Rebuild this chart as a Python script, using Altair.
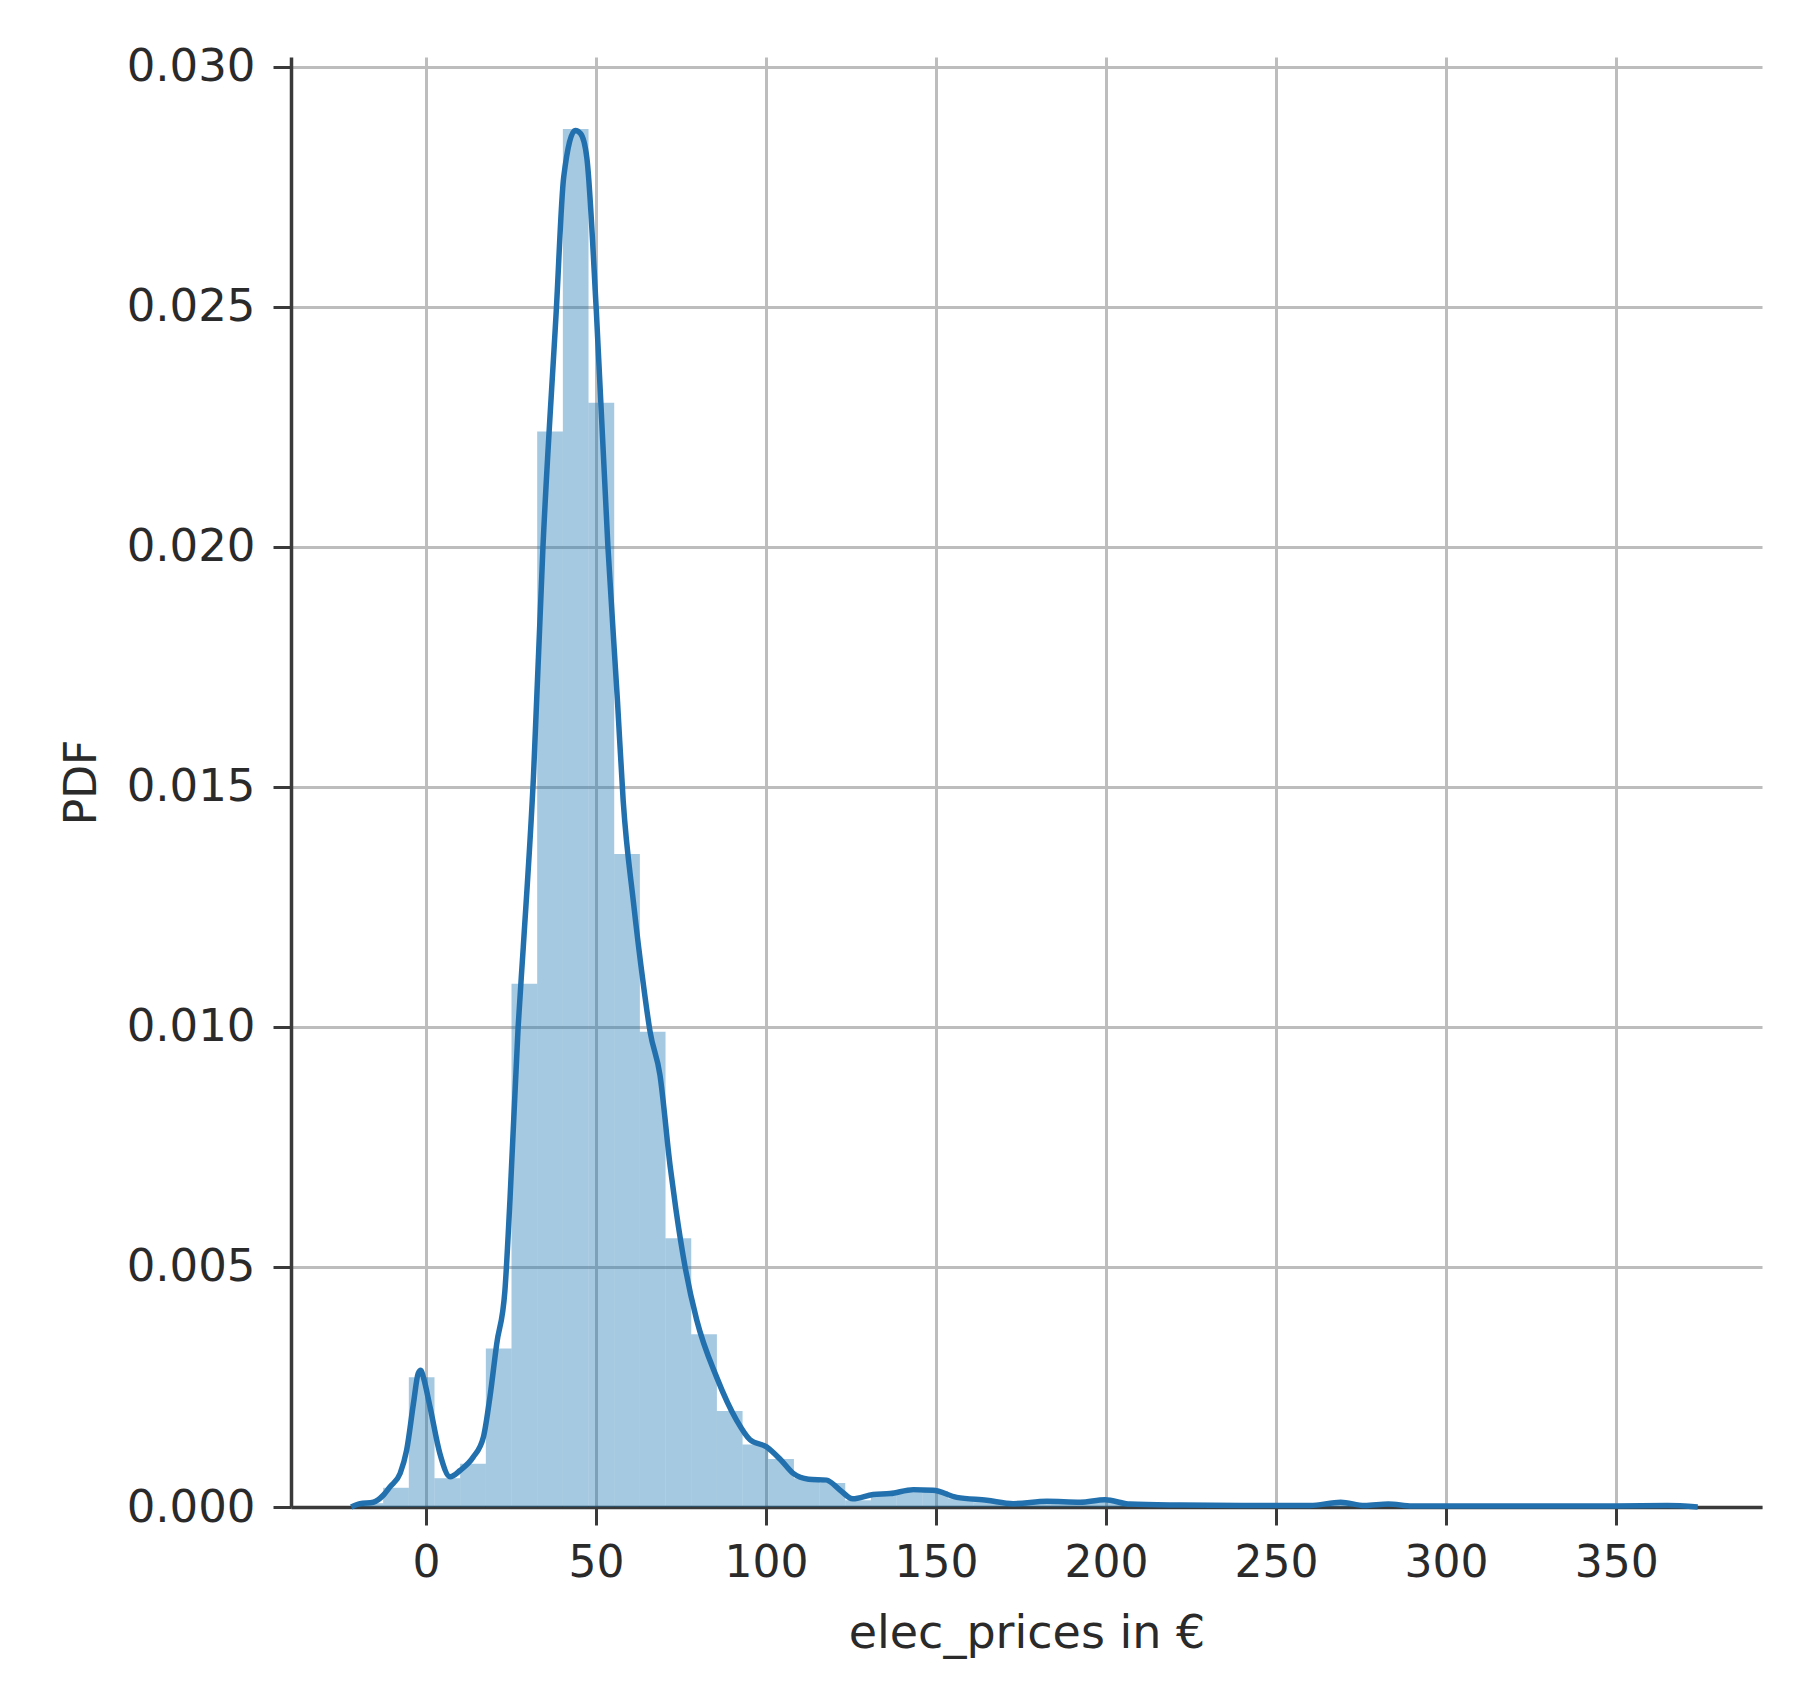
import altair as alt
import pandas as pd

# Histogram (density) bins: left edges, right edges, heights
bin_width = 7.55
bin_start0 = -20.15
hist_heights = [
    0.00008, 0.0004, 0.0027, 0.0006, 0.0009, 0.0033, 0.0109, 0.0224, 0.0287, 0.0230,
    0.0136, 0.0099, 0.0056, 0.0036, 0.0020, 0.0013, 0.0010, 0.0006, 0.0005, 0.00014,
    0.00025, 0.0003, 0.00033, 0.00018, 0.0001, 0.00006, 0.0001, 0.0001, 0.00011, 0.00012,
    0.00005, 0.00004, 0.00003, 0.00003, 0.00003, 0.00003, 0.00002, 0.00004, 0.00008, 0.00004,
    0.00005, 0.00002, 0.00002, 0.00002, 0.00002, 0.00002, 0.00002, 0.00002, 0.00002, 0.00002,
]
bin_lo = [round(bin_start0 + i * bin_width, 3) for i in range(len(hist_heights))]
bin_hi = [round(b + bin_width, 3) for b in bin_lo]

# KDE curve
kde_x = [-22, -19.4, -15.5, -12.5, -10.6, -7.6, -5.7, -3.7, -2.3, -1.5, -0.8, 1.2, 4.1, 7.1,
         10.0, 13.9, 16.9, 18.8, 20.8, 23.2, 24.7, 27.1, 28.6, 31.6, 34.4, 38.3, 40.5, 43.9,
         45.5, 47.3, 50.1, 53.5, 56.3, 58.0, 61.0, 63.9, 65.9, 68.8, 71.8, 73.5, 76.2, 79.6,
         85.5, 91.4, 95.3, 100.2, 104.1, 108, 112.5, 117.8, 121.8, 125.5, 131.5, 136.5, 143.3,
         149.1, 156.1, 164.9, 172.7, 182.6, 192.4, 199.7, 207, 221.8, 240, 260, 269, 276, 283,
         290, 320, 350, 365, 374]
kde_y = [0.0, 0.00007, 0.0001, 0.00025, 0.00042, 0.0007, 0.00118, 0.00215, 0.00278, 0.00285,
         0.00271, 0.00208, 0.00111, 0.00063, 0.00076, 0.00104, 0.00146, 0.00229, 0.0034, 0.0045,
         0.0064, 0.0100, 0.01165, 0.0152, 0.0200, 0.0249, 0.0277, 0.02867, 0.0286, 0.0281,
         0.0249, 0.0200, 0.0168, 0.0147, 0.0126, 0.0109, 0.0099, 0.0090, 0.0071, 0.0062,
         0.0050, 0.0039, 0.0027, 0.0018, 0.0014, 0.00125, 0.0010, 0.0007, 0.00058, 0.00056,
         0.00035, 0.00017, 0.00026, 0.00028, 0.00036, 0.00035, 0.0002, 0.00014, 0.00007,
         0.00012, 0.0001, 0.00015, 0.00006, 0.00004, 0.00003, 0.00003, 0.0001, 0.00003,
         0.00006, 0.00002, 0.00002, 0.00002, 0.00003, 0.0]

x_ticks = [0, 50, 100, 150, 200, 250, 300, 350]
y_ticks = [0.0, 0.005, 0.010, 0.015, 0.020, 0.025, 0.030]

hist_df = pd.DataFrame({"lo": bin_lo, "hi": bin_hi, "h": hist_heights})
kde_df = pd.DataFrame({"x": kde_x, "y": kde_y})

FONT = "DejaVu Sans"
BLUE = "#1f77b4"

xscale = alt.Scale(domain=[-39.7, 392.9], nice=False, zero=False)
yscale = alt.Scale(domain=[0, 0.0302], nice=False)

xaxis = alt.Axis(values=x_ticks, format="d", title="elec_prices in €",
                 grid=True, labelFontSize=44, titleFontSize=46, titlePadding=26,
                 labelPadding=16, tickSize=18)
yaxis = alt.Axis(values=y_ticks, format=".3f", title="PDF",
                 grid=True, labelFontSize=45, titleFontSize=44, titlePadding=22,
                 labelPadding=18, tickSize=18)

bars = alt.Chart(hist_df).mark_bar(color=BLUE, opacity=0.4, strokeWidth=0).encode(
    x=alt.X("lo:Q", scale=xscale, axis=xaxis),
    x2="hi:Q",
    y=alt.Y("h:Q", scale=yscale, axis=yaxis),
    y2=alt.datum(0),
)

line = alt.Chart(kde_df).mark_line(color="#2270ad", strokeWidth=5.5, interpolate="monotone").encode(
    x=alt.X("x:Q", scale=xscale),
    y=alt.Y("y:Q", scale=yscale),
)

chart = alt.layer(bars, line).properties(
    width=1471, height=1450,
    padding={"left": 283, "top": 49, "right": 30, "bottom": 165},
    autosize=alt.AutoSizeParams(type="none"),
).configure_view(stroke=None).configure_axis(
    labelFont=FONT, titleFont=FONT, labelColor="#2a2a2a", titleColor="#2a2a2a",
    titleFontWeight="normal", gridColor="#bdbdbd", gridWidth=3,
    domainColor="#3a3a3a", domainWidth=3.5, tickColor="#3a3a3a", tickWidth=3,
)

chart.save("out.html", embed_options={"renderer": "svg", "actions": False})
